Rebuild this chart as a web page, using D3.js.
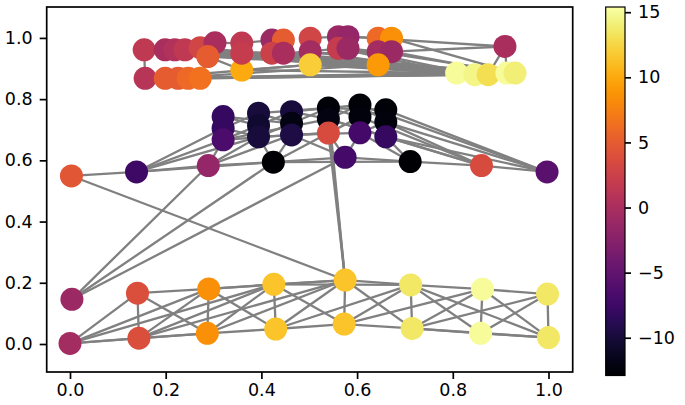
<!DOCTYPE html>
<html>
<head>
<meta charset="utf-8">
<script src="https://cdn.jsdelivr.net/npm/d3@7"></script>
<style>
  body { margin: 0; background: #fff; }
  text { font-family: "DejaVu Sans", sans-serif; }
</style>
</head>
<body>
<svg id="chart" width="685" height="405"></svg>
<script>
'use strict';

// lower cluster, bottom row (L0..L7)
const lowX = [0.0, 0.144, 0.287, 0.430, 0.573, 0.715, 0.858, 1.0];
const lowY = [0.002, 0.019, 0.035, 0.049, 0.065, 0.051, 0.035, 0.021];
const lowVal = [-0.5, 3.8, 8.5, 11.5, 11.5, 13.6, 15, 13.6];

// lower cluster, upper row (U0..U7)
const upX = [0.004, 0.141, 0.290, 0.426, 0.575, 0.712, 0.862, 0.998];
const upY = [0.146, 0.166, 0.180, 0.195, 0.209, 0.193, 0.179, 0.163];
const upVal = [-1, 3.8, 8.5, 11.5, 11.5, 13.6, 15, 13.6];

// middle row (M1..M8)
const midX = [0.003, 0.139, 0.289, 0.425, 0.575, 0.711, 0.860, 0.997];
const midY = [0.549, 0.562, 0.583, 0.594, 0.610, 0.596, 0.583, 0.562];
const midVal = [4.5, -7.5, -1.5, -12.8, -7, -12.8, 3.5, -5.5];

// dark cluster, columns A..F, three nodes each
const darkX = [0.320, 0.320, 0.320, 0.394, 0.394, 0.394, 0.463, 0.463, 0.463,
               0.540, 0.540, 0.540, 0.606, 0.606, 0.606, 0.660, 0.660, 0.660];
const darkY = [0.743, 0.705, 0.667, 0.754, 0.714, 0.677, 0.759, 0.721, 0.683,
               0.771, 0.735, 0.689, 0.781, 0.742, 0.690, 0.765, 0.725, 0.677];
const darkVal = [-8, -8, -6.5, -10, -10.5, -10, -10, -12, -9.5,
                 -12.5, -12, 3.5, -12.5, -12.3, -7, -12.5, -12.3, -8];

// top cluster (T1..T37)
const topX = [0.155, 0.199, 0.219, 0.240, 0.272, 0.303, 0.288, 0.359, 0.359, 0.422,
              0.446, 0.422, 0.446, 0.502, 0.502, 0.502, 0.561, 0.581, 0.561, 0.581,
              0.644, 0.672, 0.644, 0.672, 0.644, 0.157, 0.199, 0.226, 0.247, 0.272,
              0.909, 0.808, 0.846, 0.874, 0.913, 0.930, 0.359];
const topY = [0.961, 0.961, 0.961, 0.961, 0.968, 0.984, 0.939, 0.983, 0.895, 0.993,
              0.993, 0.950, 0.950, 0.999, 0.955, 0.912, 1.004, 1.004, 0.966, 0.966,
              0.999, 0.999, 0.955, 0.955, 0.912, 0.868, 0.868, 0.868, 0.868, 0.868,
              0.972, 0.885, 0.880, 0.880, 0.885, 0.885, 0.950];
const topVal = [1.5, 0, 0.5, 1.5, 3, 0, 5, 1.5, 10, -1,
                5, 2.5, 0, 3, -0.5, 12, -1, -1.5, 2, -1,
                6, 8.5, -0.5, -1, 9, 1, 5, 5, 6, 6.5,
                0, 15, 14.5, 13, 15, 14, 2];

const edges = [
  // lower cluster
  ['L0','U1'],['L0','L1'],['L0','U2'],['L0','U3'],['L0','L2'],
  ['L1','U1'],['L1','U2'],['L1','L2'],['L1','U3'],['L1','U4'],
  ['U1','U2'],['U1','L2'],['U2','L2'],['U2','U3'],['U2','L3'],['U2','U4'],
  ['L2','U3'],['L2','L3'],['L2','U4'],
  ['U3','L3'],['U3','U4'],['U3','L4'],['U3','U5'],
  ['L3','U4'],['L3','L4'],['L3','U5'],
  ['U4','L4'],['U4','U5'],['U4','L5'],
  ['L4','U5'],['L4','L5'],['L4','U6'],
  ['U5','L5'],['U5','U6'],['U5','L6'],['U5','L7'],
  ['L5','U6'],['L5','L6'],['L5','U7'],['L5','L7'],
  ['U6','L6'],['U6','U7'],['U6','L7'],['L6','U7'],['L6','L7'],['U7','L7'],
  // links between lower and middle
  ['U0','M3'],['U0','M4'],['U0','M5'],['M1','U4'],
  ['D3','U4'],['D1','U4'],['D2','U4'],
  // middle row
  ['M1','M2'],['M2','M3'],['M2','M4'],['M3','M4'],['M4','M5'],['M4','M6'],
  ['M5','M6'],['M6','M7'],['M7','M8'],
  ['M2','A3'],['M2','A2'],['M2','B3'],['M3','A3'],['M3','B3'],['M3','C3'],
  ['M4','B3'],['M4','C3'],['M4','D3'],['M5','D3'],['M5','E3'],['M5','C3'],
  ['M6','E3'],['M6','F3'],['M7','F3'],['M7','E2'],['M7','F2'],['M7','D2'],
  ['M8','F1'],['M8','F2'],['M8','E1'],['M8','F3'],
  // dark cluster
  ['A1','A2'],['A2','A3'],['B1','B2'],['B2','B3'],['C1','C2'],['C2','C3'],
  ['D1','D2'],['D2','D3'],['E1','E2'],['E2','E3'],['F1','F2'],['F2','F3'],
  ['A1','B2'],['A2','B1'],['A2','B3'],['A3','B2'],['A3','C3'],['B1','C2'],
  ['B2','C1'],['B3','C2'],['B3','D3'],['C1','D2'],['C2','D1'],['C3','D3'],
  ['C3','E3'],['D1','E2'],['D2','E1'],['D3','E2'],['D2','F3'],['E1','F2'],
  ['E2','F1'],['E3','F2'],['A1','C2'],['A3','D2'],['B1','D1'],['C1','E1'],['D1','F1'],
  // top cluster
  ['T1','T2'],['T2','T3'],['T3','T4'],['T4','T5'],['T5','T6'],['T1','T26'],
  ['T26','T27'],['T27','T28'],['T28','T29'],['T29','T30'],['T30','T7'],['T7','T9'],
  ['T6','T8'],['T8','T10'],['T10','T11'],['T12','T13'],['T13','T15'],['T14','T17'],
  ['T15','T19'],['T19','T20'],['T17','T18'],['T18','T21'],['T21','T22'],['T23','T24'],
  ['T20','T23'],['T9','T16'],['T16','T25'],['T37','T12'],['T8','T37'],
  ['T26','T32'],['T27','T33'],['T28','T32'],['T29','T34'],['T30','T33'],['T7','T35'],
  ['T9','T32'],['T16','T33'],['T16','T36'],['T25','T32'],['T25','T34'],['T22','T36'],
  ['T24','T35'],['T12','T34'],['T15','T33'],['T19','T32'],['T23','T36'],['T37','T33'],
  ['T1','T33'],['T2','T32'],['T4','T35'],['T3','T36'],['T5','T34'],['T13','T35'],
  ['T20','T33'],['T26','T16'],['T27','T25'],['T1','T13'],['T7','T23'],['T37','T36'],
  ['T31','T24'],['T31','T18'],['T31','T34'],['T31','T35']
];

const xTicks = [0.0, 0.2, 0.4, 0.6, 0.8, 1.0];
const yTicks = [0.0, 0.2, 0.4, 0.6, 0.8, 1.0];
const cbTicks = [-10, -5, 0, 5, 10, 15];
const cbDomain = [-12.9, 15.4];

// build node table from the group arrays
let nodes = [];
function addGroup(xs, ys, vals, idFn) {
  xs.forEach((v, i) => nodes.push({ id: idFn(i), x: v, y: ys[i], val: vals[i] }));
}
addGroup(lowX, lowY, lowVal, i => 'L' + i);
addGroup(upX, upY, upVal, i => 'U' + i);
addGroup(midX, midY, midVal, i => 'M' + (i + 1));
addGroup(darkX, darkY, darkVal, i => 'ABCDEF'[Math.floor(i / 3)] + (i % 3 + 1));
addGroup(topX, topY, topVal, i => 'T' + (i + 1));
let byId = {};
nodes.forEach(n => byId[n.id] = n);

const svg = d3.select('#chart');
const plot = { left: 46.7, right: 572.7, top: 7, bottom: 372 };

let xScale = d3.scaleLinear().domain([-0.0487, 1.0506]).range([plot.left, plot.right]);
let yScale = d3.scaleLinear().domain([-0.0915, 1.101]).range([plot.bottom, plot.top]);
let color = d3.scaleSequential(d3.interpolateInferno).domain(cbDomain);

// edges first, then nodes on top
svg.append('g')
  .selectAll('line')
  .data(edges)
  .enter()
  .append('line')
    .attr('x1', d => xScale(byId[d[0]].x))
    .attr('y1', d => yScale(byId[d[0]].y))
    .attr('x2', d => xScale(byId[d[1]].x))
    .attr('y2', d => yScale(byId[d[1]].y))
    .attr('stroke', '#808080')
    .attr('stroke-width', 2.3);

svg.append('g')
  .selectAll('circle')
  .data(nodes)
  .enter()
  .append('circle')
    .attr('cx', d => xScale(d.x))
    .attr('cy', d => yScale(d.y))
    .attr('r', 11.5)
    .attr('fill', d => color(d.val));

// axes
function styleAxis(g) {
  g.select('.domain').remove();
  g.selectAll('line').attr('stroke', '#000').attr('stroke-width', 1.7);
  g.selectAll('text').style('font-size', '17.5px').attr('fill', '#000');
}

svg.append('g')
  .attr('transform', 'translate(0,' + plot.bottom + ')')
  .call(d3.axisBottom(xScale).tickValues(xTicks).tickSize(7).tickPadding(5).tickFormat(d3.format('.1f')))
  .call(styleAxis);

svg.append('g')
  .attr('transform', 'translate(' + plot.left + ',0)')
  .call(d3.axisLeft(yScale).tickValues(yTicks).tickSize(7).tickPadding(7).tickFormat(d3.format('.1f')))
  .call(styleAxis);

svg.append('rect')
  .attr('x', plot.left).attr('y', plot.top)
  .attr('width', plot.right - plot.left).attr('height', plot.bottom - plot.top)
  .attr('fill', 'none').attr('stroke', '#000').attr('stroke-width', 1.7);

// colorbar
const cb = { left: 605.7, right: 625, top: 7, bottom: 375.5 };
let grad = svg.append('defs').append('linearGradient')
  .attr('id', 'cbgrad').attr('x1', 0).attr('y1', 1).attr('x2', 0).attr('y2', 0);
d3.range(0, 1.0001, 0.02).forEach(t => {
  grad.append('stop').attr('offset', t).attr('stop-color', d3.interpolateInferno(t));
});
svg.append('rect')
  .attr('x', cb.left).attr('y', cb.top)
  .attr('width', cb.right - cb.left).attr('height', cb.bottom - cb.top)
  .attr('fill', 'url(#cbgrad)')
  .attr('stroke', '#000').attr('stroke-width', 1.2);

let cbScale = d3.scaleLinear().domain(cbDomain).range([cb.bottom, cb.top]);
svg.append('g')
  .attr('transform', 'translate(' + cb.right + ',0)')
  .call(d3.axisRight(cbScale).tickValues(cbTicks).tickSize(6).tickPadding(7)
    .tickFormat(d => d < 0 ? '\u2212' + Math.abs(d) : String(d)))
  .call(styleAxis);
</script>
</body>
</html>
